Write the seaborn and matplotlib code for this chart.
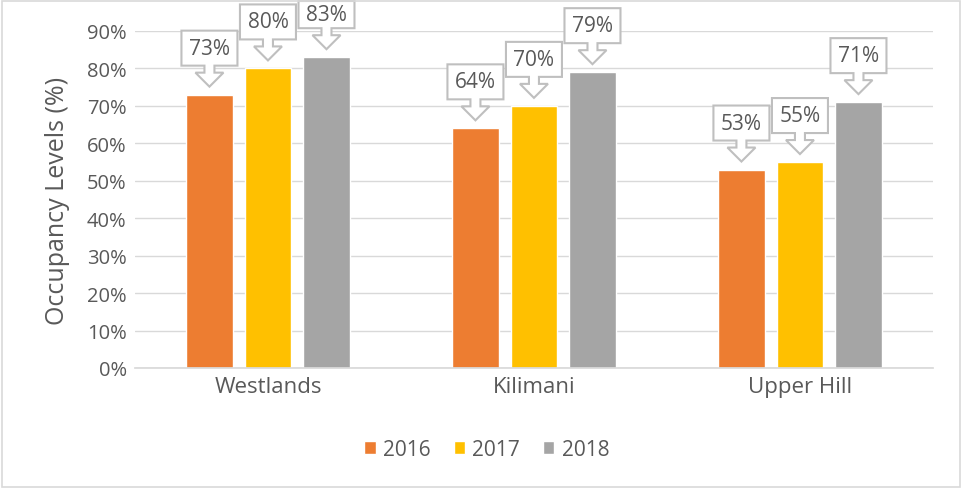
import pandas as pd
import numpy as np
import matplotlib
matplotlib.use("Agg")
import matplotlib.pyplot as plt
import matplotlib.transforms as mtransforms
from matplotlib.patches import Polygon, Rectangle
from matplotlib.ticker import PercentFormatter
import seaborn as sns

# Data
locations = ["Westlands", "Kilimani", "Upper Hill"]
years = ["2016", "2017", "2018"]
occ_2016 = [73, 64, 53]
occ_2017 = [80, 70, 55]
occ_2018 = [83, 79, 71]
year_colors = ["#ED7D31", "#FFC000", "#A5A5A5"]

df = pd.DataFrame({
    "location": locations * 3,
    "year": [y for y in years for _ in locations],
    "occupancy": occ_2016 + occ_2017 + occ_2018,
})

sns.set_theme(style="white")
plt.rcParams["font.family"] = ["Open Sans", "DejaVu Sans"]
TXT = "#595959"

fig = plt.figure(figsize=(9.62, 4.89), dpi=100)
ax = fig.add_axes([0.1403, 0.2454, 0.8295, 0.6892])

sns.barplot(data=df, x="location", y="occupancy", hue="year",
            palette=year_colors, width=0.66, gap=0.2, saturation=1,
            ax=ax, legend=True)

ax.set_ylim(0, 90)
ax.set_yticks(np.arange(0, 91, 10))
ax.yaxis.set_major_formatter(PercentFormatter(decimals=0))
ax.grid(axis="y", color="#d9d9d9", linewidth=1)
ax.set_axisbelow(True)
for s in ["left", "right", "top"]:
    ax.spines[s].set_visible(False)
ax.spines["bottom"].set_color("#d9d9d9")
ax.tick_params(axis="both", colors=TXT, length=0)
ax.tick_params(axis="y", labelsize=14.5, pad=6)
ax.tick_params(axis="x", labelsize=16, pad=6)
ax.set_xlabel("")
ax.set_ylabel("Occupancy Levels (%)", fontsize=18, color=TXT, labelpad=12)

ax.get_legend().remove()
handles, labels = ax.get_legend_handles_labels()
fig.legend(handles, labels, loc="center", bbox_to_anchor=(0.506, 0.079), ncol=3,
           frameon=False, fontsize=15, handlelength=0.55, handleheight=0.55,
           handletextpad=0.35, columnspacing=1.1, labelcolor=TXT)

# Callout labels (box with downward arrow) above each bar
fig.canvas.draw()
ident = mtransforms.IdentityTransform()
top_limit = fig.bbox.height - 2
bw, bh = 28, 35   # half box width, box height
sw, hw = 5, 14    # half shaft width, half head width
for cont in ax.containers:
    for bar in cont:
        cx = bar.get_x() + bar.get_width() / 2
        val = bar.get_height()
        px, py = ax.transData.transform((cx, val))
        tip = py + 8
        head = tip + 14
        shaft = head + 7
        box_top = min(shaft + bh, top_limit)
        pts = [(px, tip), (px + hw, head), (px + sw, head), (px + sw, shaft),
               (px + bw, shaft), (px + bw, box_top), (px - bw, box_top),
               (px - bw, shaft), (px - sw, shaft), (px - sw, head),
               (px - hw, head)]
        poly = Polygon(pts, closed=True, transform=ident, facecolor="white",
                       edgecolor="#bfbfbf", linewidth=1.5, clip_on=False, zorder=5)
        ax.add_artist(poly)
        ax.text(px, (shaft + box_top) / 2, f"{val:.0f}%", transform=ident,
                ha="center", va="center", fontsize=15, color=TXT, zorder=6)

# Outer border
fig.patches.append(Rectangle((0.002, 0.002), 0.996, 0.994, transform=fig.transFigure,
                             fill=False, edgecolor="#d9d9d9", linewidth=1.2))

fig.savefig("out.png", dpi=100)
